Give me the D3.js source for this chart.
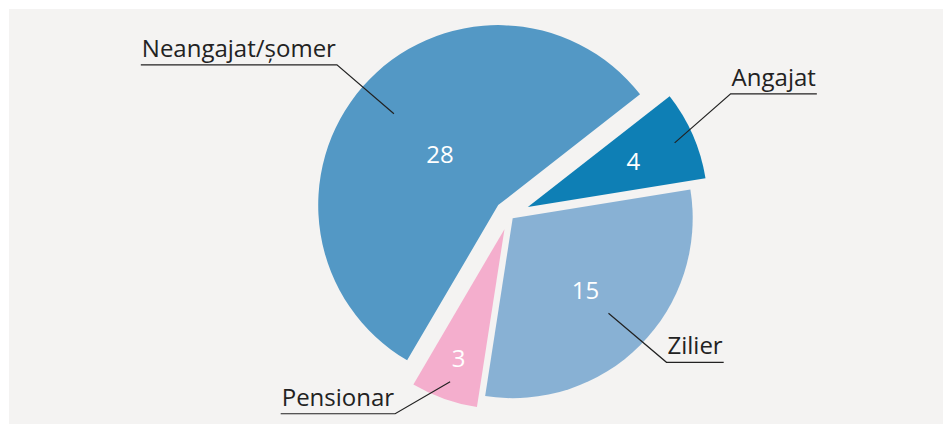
<!DOCTYPE html>
<html>
<head>
<meta charset="utf-8">
<script src="https://cdn.jsdelivr.net/npm/d3@7"></script>
<style>
  body { margin: 0; background: #ffffff; }
  svg { display: block; }
</style>
</head>
<body>
<svg id="chart" width="945" height="424"></svg>
<script>
// categories and values, in drawing order (clockwise from the Angajat slice)
var categories = ['Angajat', 'Zilier', 'Pensionar', 'Neangajat/șomer']
var values = [4, 15, 3, 28]
var colors = ['#0e7fb5', '#88b1d4', '#f4aecd', '#5398c5']

// layout: how far each slice is pulled out, where value and callout sit
var explode = [20, 4.5, 15, 15]
var valueAt = [0.64, 0.57, 0.76, 0.43]      // fraction of radius
var leaderAt = [0.89, 0.75, 0.9, 0.77]      // fraction of radius
var elbow = [[56, -49], [58, 49], [-55, 32], [-57, -49]]

var svg = d3.select('#chart'),
	cx = 509.5,
	cy = 215,
	radius = 180,
	startDeg = 52

svg.append('rect')
	.attr('x', 9).attr('y', 9)
	.attr('width', 934).attr('height', 415)
	.attr('fill', '#f4f3f2')

var pie = d3.pie().sort(null).value(function(d) { return d })
	.startAngle(startDeg * Math.PI / 180)
	.endAngle((startDeg + 360) * Math.PI / 180)

var arc = d3.arc().innerRadius(0).outerRadius(radius)
var arcs = pie(values)

// unit vector along the middle of a slice
function dir(a) {
	var m = (a.startAngle + a.endAngle) / 2
	return [Math.sin(m), -Math.cos(m)]
}

var g = svg.append('g').attr('transform', 'translate(' + cx + ',' + cy + ')')

var slice = g.selectAll('g.slice').data(arcs)
	.enter().append('g')
	.attr('class', 'slice')
	.attr('transform', function(a, i) {
		var u = dir(a)
		return 'translate(' + (u[0] * explode[i]) + ',' + (u[1] * explode[i]) + ')'
	})

slice.append('path')
	.attr('d', arc)
	.attr('fill', function(a, i) { return colors[i] })

slice.append('text')
	.text(function(a) { return a.data })
	.attr('x', function(a, i) { return dir(a)[0] * radius * valueAt[i] })
	.attr('y', function(a, i) { return dir(a)[1] * radius * valueAt[i] })
	.attr('dy', '0.36em')
	.attr('text-anchor', 'middle')
	.attr('fill', '#ffffff')
	.style('font-family', '"Open Sans", sans-serif')
	.style('font-size', '24px')

// callouts: leader line, then an underline beneath the category name
slice.each(function(a, i) {
	var s = d3.select(this),
		u = dir(a),
		x0 = u[0] * radius * leaderAt[i],
		y0 = u[1] * radius * leaderAt[i],
		x1 = x0 + elbow[i][0],
		y1 = y0 + elbow[i][1],
		right = elbow[i][0] > 0

	var label = s.append('text')
		.text(categories[i])
		.attr('x', right ? x1 + 1 : x1 - 1)
		.attr('y', y1 - 8)
		.attr('text-anchor', right ? 'start' : 'end')
		.attr('fill', '#222222')
		.style('font-family', '"Open Sans", sans-serif')
		.style('font-size', '24px')

	var w = label.node().getComputedTextLength() + 2
	var x2 = right ? x1 + w : x1 - w

	s.append('path')
		.attr('d', 'M' + x0 + ',' + y0 + 'L' + x1 + ',' + y1 + 'L' + x2 + ',' + y1)
		.attr('fill', 'none')
		.attr('stroke', '#222222')
		.attr('stroke-width', 1.2)
})
</script>
</body>
</html>
